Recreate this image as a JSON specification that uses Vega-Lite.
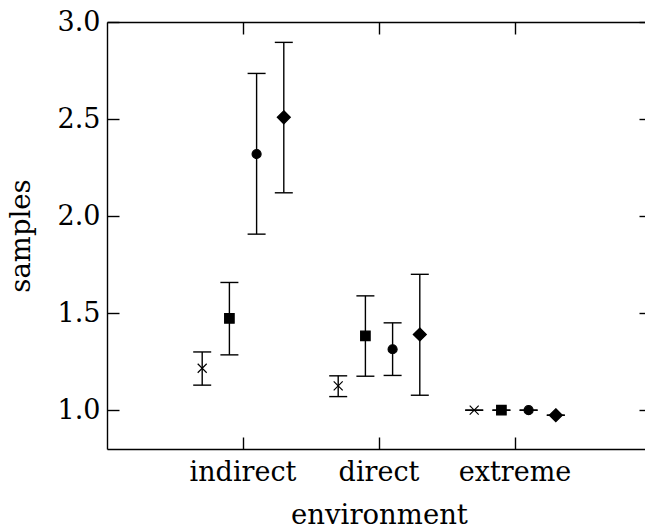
{
  "$schema": "https://vega.github.io/schema/vega-lite/v6.json",
  "autosize": "none",
  "width": 544,
  "height": 427,
  "padding": {"left": 107, "top": 22, "right": 0, "bottom": 78},
  "background": "white",
  "config": {
    "view": {"stroke": null},
    "font": "DejaVu Serif",
    "axis": {
      "labelFont": "DejaVu Serif",
      "titleFont": "DejaVu Serif",
      "labelFontSize": 27,
      "titleFontSize": 27.5,
      "labelColor": "black",
      "titleColor": "black",
      "titleFontWeight": "normal",
      "domainColor": "black",
      "tickColor": "black",
      "domainWidth": 1.4,
      "tickWidth": 1.4,
      "tickSize": -12,
      "grid": false
    }
  },
  "data": {
    "values": [
      {"env": "indirect", "series": "s1", "mean": 1.216, "lo": 1.129, "hi": 1.300},
      {"env": "indirect", "series": "s2", "mean": 1.473, "lo": 1.285, "hi": 1.658},
      {"env": "indirect", "series": "s3", "mean": 2.320, "lo": 1.907, "hi": 2.735},
      {"env": "indirect", "series": "s4", "mean": 2.509, "lo": 2.120, "hi": 2.895},
      {"env": "direct", "series": "s1", "mean": 1.125, "lo": 1.070, "hi": 1.177},
      {"env": "direct", "series": "s2", "mean": 1.383, "lo": 1.175, "hi": 1.589},
      {"env": "direct", "series": "s3", "mean": 1.314, "lo": 1.179, "hi": 1.450},
      {"env": "direct", "series": "s4", "mean": 1.390, "lo": 1.077, "hi": 1.700},
      {"env": "extreme", "series": "s1", "mean": 1.000, "lo": 1.000, "hi": 1.000},
      {"env": "extreme", "series": "s2", "mean": 1.000, "lo": 1.000, "hi": 1.000},
      {"env": "extreme", "series": "s3", "mean": 1.000, "lo": 1.000, "hi": 1.000},
      {"env": "extreme", "series": "s4", "mean": 0.974, "lo": 0.974, "hi": 0.974}
    ]
  },
  "layer": [
    {
      "mark": {"type": "rule", "color": "black", "strokeWidth": 1.4},
      "encoding": {
        "x": {
          "field": "env", "type": "nominal", "sort": ["indirect", "direct", "extreme"],
          "scale": {"paddingInner": 0, "paddingOuter": 0.5},
          "axis": {"orient": "top", "labels": false, "title": null}
        },
        "xOffset": {
          "field": "series", "type": "nominal", "sort": ["s1", "s2", "s3", "s4"],
          "scale": {"paddingInner": 0, "paddingOuter": 0.5}
        },
        "y": {
          "field": "lo", "type": "quantitative",
          "scale": {"domain": [0.8, 3.0], "nice": false, "zero": false},
          "axis": {"orient": "right", "labels": false, "title": null, "values": [1, 1.5, 2, 2.5, 3]}
        },
        "y2": {"field": "hi"}
      }
    },
    {
      "mark": {"type": "point", "shape": "stroke", "size": 324, "color": "black", "strokeWidth": 1.4, "filled": false, "opacity": 1},
      "encoding": {
        "x": {"field": "env", "type": "nominal", "sort": ["indirect", "direct", "extreme"], "axis": null},
        "xOffset": {"field": "series", "type": "nominal", "sort": ["s1", "s2", "s3", "s4"]},
        "y": {"field": "lo", "type": "quantitative", "axis": null}
      }
    },
    {
      "mark": {"type": "point", "shape": "stroke", "size": 324, "color": "black", "strokeWidth": 1.4, "filled": false, "opacity": 1},
      "encoding": {
        "x": {"field": "env", "type": "nominal", "sort": ["indirect", "direct", "extreme"], "axis": null},
        "xOffset": {"field": "series", "type": "nominal", "sort": ["s1", "s2", "s3", "s4"]},
        "y": {"field": "hi", "type": "quantitative", "axis": null}
      }
    },
    {
      "mark": {"type": "point", "stroke": "black", "strokeWidth": 1.2, "opacity": 1, "filled": true, "size": 100},
      "encoding": {
        "x": {
          "field": "env", "type": "nominal", "sort": ["indirect", "direct", "extreme"],
          "axis": {"orient": "bottom", "title": "environment", "labelAngle": 0, "labelPadding": 22, "titlePadding": 16}
        },
        "xOffset": {"field": "series", "type": "nominal", "sort": ["s1", "s2", "s3", "s4"]},
        "y": {
          "field": "mean", "type": "quantitative",
          "axis": {"orient": "left", "title": "samples", "values": [1, 1.5, 2, 2.5, 3], "format": ".1f", "labelPadding": 19, "titlePadding": 22}
        },
        "shape": {
          "field": "series", "type": "nominal",
          "scale": {"domain": ["s1", "s2", "s3", "s4"], "range": [
            "M-0.9,-0.9L0.9,0.9M-0.9,0.9L0.9,-0.9",
            "M-0.95,-0.95L0.95,-0.95L0.95,0.95L-0.95,0.95Z",
            "M-0.9,0A0.9,0.9,0,1,0,0.9,0A0.9,0.9,0,1,0,-0.9,0Z",
            "M0,-1.3L1.3,0L0,1.3L-1.3,0Z"
          ]},
          "legend": null
        },
        "fill": {
          "field": "series", "type": "nominal",
          "scale": {"domain": ["s1", "s2", "s3", "s4"], "range": ["transparent", "black", "black", "black"]},
          "legend": null
        }
      }
    }
  ],
  "resolve": {"axis": {"x": "independent", "y": "independent"}}
}
